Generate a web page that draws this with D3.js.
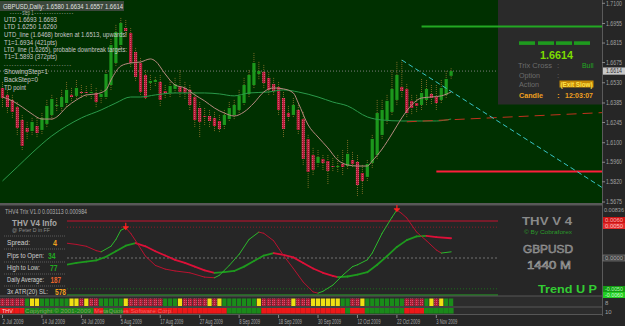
<!DOCTYPE html>
<html><head><meta charset="utf-8">
<script src="https://cdn.jsdelivr.net/npm/d3@7"></script>
<style>body{margin:0;background:#262626;} svg{display:block;font-family:"Liberation Sans",Arial,sans-serif;}</style>
</head><body><svg id="c" width="625" height="326"></svg>
<script>
// ---------- DATA ----------
const opens  = [1.6493,1.6443,1.6407,1.6356,1.6263,1.6206,1.6184,1.6220,1.6192,1.6235,1.6299,1.6364,1.6356,1.6385,1.6443,1.6436,1.6464,1.6464,1.6460,1.6457,1.6428,1.6428,1.6514,1.6672,1.6801,1.6923,1.6887,1.6751,1.6672,1.6586,1.6529,1.6536,1.6536,1.6471,1.6457,1.6486,1.6500,1.6493,1.6479,1.6428,1.6349,1.6292,1.6292,1.6278,1.6256,1.6227,1.6270,1.6299,1.6335,1.6385,1.6450,1.6514,1.6593,1.6608,1.6565,1.6521,1.6500,1.6421,1.6313,1.6299,1.6335,1.6270,1.6127,1.6012,1.5955,1.5984,1.5969,1.5933,1.5930,1.5948,1.5933,1.5976,1.5962,1.5883,1.5855,1.5955,1.6012,1.6156,1.6263,1.6321,1.6407,1.6500,1.6486,1.6400,1.6385,1.6371,1.6407,1.6450,1.6428,1.6407,1.6443,1.6580];
const highs  = [1.6536,1.6479,1.6443,1.6392,1.6299,1.6249,1.6278,1.6278,1.6313,1.6407,1.6443,1.6421,1.6479,1.6536,1.6493,1.6550,1.6514,1.6507,1.6521,1.6493,1.6479,1.6622,1.6844,1.6945,1.6995,1.6980,1.6923,1.6780,1.6708,1.6622,1.6586,1.6572,1.6586,1.6514,1.6550,1.6565,1.6622,1.6536,1.6514,1.6464,1.6392,1.6349,1.6335,1.6321,1.6299,1.6335,1.6392,1.6407,1.6479,1.6565,1.6622,1.6744,1.6680,1.6658,1.6608,1.6565,1.6536,1.6464,1.6364,1.6421,1.6371,1.6321,1.6156,1.6063,1.6048,1.6012,1.6012,1.5990,1.6012,1.6048,1.6120,1.6034,1.6012,1.5941,1.5976,1.6156,1.6407,1.6407,1.6443,1.6622,1.6680,1.6694,1.6521,1.6443,1.6443,1.6557,1.6550,1.6514,1.6514,1.6550,1.6615,1.6634];
const lows   = [1.6349,1.6313,1.6278,1.6156,1.6048,1.6120,1.6156,1.6134,1.6156,1.6206,1.6263,1.6321,1.6321,1.6349,1.6392,1.6407,1.6421,1.6421,1.6407,1.6349,1.6378,1.6407,1.6479,1.6651,1.6765,1.6852,1.6637,1.6536,1.6436,1.6407,1.6479,1.6507,1.6364,1.6421,1.6421,1.6457,1.6421,1.6407,1.6335,1.6206,1.6141,1.6227,1.6213,1.6177,1.6170,1.6192,1.6249,1.6263,1.6313,1.6364,1.6428,1.6493,1.6550,1.6493,1.6443,1.6436,1.6299,1.6134,1.6249,1.6278,1.6156,1.5941,1.5776,1.5869,1.5919,1.5905,1.5797,1.5891,1.5891,1.5869,1.5905,1.5919,1.5712,1.5726,1.5819,1.5919,1.5976,1.6120,1.6227,1.6299,1.6371,1.6421,1.6278,1.6299,1.6321,1.6335,1.6371,1.6371,1.6335,1.6378,1.6421,1.6557];
const closes = [1.6421,1.6356,1.6321,1.6206,1.6077,1.6177,1.6249,1.6170,1.6278,1.6364,1.6414,1.6371,1.6428,1.6479,1.6428,1.6493,1.6457,1.6460,1.6464,1.6392,1.6450,1.6593,1.6801,1.6894,1.6959,1.6901,1.6672,1.6572,1.6464,1.6421,1.6543,1.6550,1.6407,1.6457,1.6507,1.6521,1.6464,1.6457,1.6371,1.6263,1.6249,1.6288,1.6256,1.6220,1.6199,1.6299,1.6349,1.6371,1.6436,1.6514,1.6586,1.6672,1.6615,1.6529,1.6479,1.6471,1.6335,1.6199,1.6285,1.6371,1.6192,1.5984,1.5891,1.5905,1.5998,1.5955,1.5898,1.5930,1.5933,1.5926,1.6020,1.5948,1.5797,1.5826,1.5948,1.6127,1.6313,1.6335,1.6400,1.6486,1.6586,1.6471,1.6313,1.6349,1.6364,1.6457,1.6486,1.6421,1.6385,1.6493,1.6557,1.6614];

const fastMaIdx = [0,2,4,6,8,10,11,13,15,17,19,21,22,24,26,28,30,31,33,35,37,39,41,43,45,47,49,51,53,55,57,59,60,62,64,66,68,70,72,74,75,77,79,81,83,85,87,89,91];
const fastMaVal = [1.6428,1.6400,1.6356,1.6306,1.6270,1.6270,1.6285,1.6356,1.6407,1.6443,1.6450,1.6479,1.6550,1.6650,1.6672,1.6679,1.6701,1.6686,1.6593,1.6514,1.6493,1.6443,1.6400,1.6349,1.6313,1.6292,1.6321,1.6385,1.6464,1.6493,1.6486,1.6457,1.6385,1.6227,1.6141,1.6063,1.5976,1.5941,1.5933,1.5933,1.5969,1.6055,1.6163,1.6278,1.6371,1.6421,1.6428,1.6436,1.6464];
const slowMaIdx = [0,3,6,10,13,16,20,23,26,28,31,35,38,41,44,47,50,54,57,60,64,67,70,74,77,81,85,88,91];
const slowMaVal = [1.5826,1.5926,1.6027,1.6149,1.6220,1.6278,1.6335,1.6385,1.6428,1.6428,1.6443,1.6457,1.6457,1.6457,1.6450,1.6436,1.6457,1.6464,1.6479,1.6464,1.6428,1.6392,1.6364,1.6285,1.6263,1.6256,1.6256,1.6256,1.6270];

const fastTrixIdx = [13,15,17,19,20,22,23,24,25,26,27,29,31,33,35,38,41,43,44,46,48,50,52,53,55,57,59,61,63,64,65,67,69,71,72,74,75,77,79,80,81,82,84,86,88,89,91];
const fastTrixVal = [0.0024,0.0022,0.0019,0.0012,0.0010,0.0019,0.0030,0.0045,0.0049,0.0040,0.0028,0.0003,-0.0012,-0.0018,-0.0021,-0.0024,-0.0031,-0.0032,-0.0028,-0.0012,0.0006,0.0030,0.0042,0.0040,0.0028,0.0004,-0.0017,-0.0039,-0.0055,-0.0057,-0.0054,-0.0044,-0.0028,-0.0014,-0.0011,-0.0003,0.0008,0.0040,0.0066,0.0078,0.0072,0.0065,0.0042,0.0028,0.0013,0.0008,0.0010];
const slowTrixIdx = [13,15,17,19,21,23,25,27,29,31,33,35,37,39,41,43,45,47,49,51,53,55,57,59,61,63,65,67,68,70,72,74,76,78,80,82,84,86,88,91];
const slowTrixVal = [-0.0011,-0.0008,-0.0006,-0.0004,0.0002,0.0011,0.0020,0.0024,0.0019,0.0011,0.0004,-0.0003,-0.0008,-0.0014,-0.0020,-0.0024,-0.0023,-0.0021,-0.0014,-0.0005,0.0004,0.0008,0.0005,0.0001,-0.0008,-0.0017,-0.0024,-0.0029,-0.0031,-0.0030,-0.0027,-0.0023,-0.0011,0.0003,0.0018,0.0029,0.0035,0.0036,0.0034,0.0032];
const trixMarkIdx = [25, 80];
const trixLevels = [0.006, 0.005, 0, -0.005, -0.006];

const barRow1 = "RRRRRGYYGGGGGGYYRYRRGGGGGYRRRRRRRGGGYRRRRRYRYGGGGGGGYRRRRRRYRRRYYYYYYGGRRYGGGGGGGGRRRRGYRYGG".split("");
const barRow2 = "RRRRRGGGGGGGGGGGGGGRRGGGGRRRRRRRRRRRRRRRRRRRRRGGGGGGGRRRRRRRRRRRRRRRRRGRRRGGGGGGGGRRRRGGGGGG".split("");

const priceTicks = [1.7100,1.6955,1.6815,1.6675,1.6530,1.6385,1.6245,1.6100,1.5960,1.5820,1.5675];
const dateTickIdx = [0,8,16,24,32,40,48,56,64,72,80,88];
const dateTickLabels = ["2 Jul 2009","14 Jul 2009","24 Jul 2009","5 Aug 2009","17 Aug 2009","27 Aug 2009","8 Sep 2009","18 Sep 2009","30 Sep 2009","12 Oct 2009","22 Oct 2009","3 Nov 2009"];

const utdPts = [[81,1.6693],[91,1.6468]];
const ltdPts = [[82,1.6250],[91,1.6265]];
const upTarget = {i:85, p:1.6934};
const dnTarget = {i:88, p:1.5893};
const lastPrice = 1.6614;

const infoLines = ["UTD  1.6693  1.6693","LTD  1.6250  1.6260","UTD_line (1.6468) broken at 1.6513, upwards!","T1=1.6934 (421pts)","LTD_line (1.6265), probable downbreak targets:","T1=1.5893 (372pts)"];
const thvRows = [["Spread:","4","#f0a020"],["Pips to Open:","34","#22aa22"],["High to Low:","77","#22aa22"],["Daily Average:","187","#e8642c"],["3x ATR(20) SL:","578","#f0a020"]];

// ---------- SCALES ----------
const svg = d3.select("#c");
const x = d3.scaleLinear().domain([0,91]).range([2.5, 2.5+91*4.93]);
const y = d3.scaleLinear().domain([1.5675,1.7100]).range([202,3.3]);
const yt = d3.scaleLinear().domain([-0.006,0.006]).range([295,221]);

const defs = svg.append("defs");
const pat = defs.append("pattern").attr("id","rh").attr("width",2).attr("height",2).attr("patternUnits","userSpaceOnUse");
pat.append("rect").attr("width",2).attr("height",2).attr("fill","#b01c36");
pat.append("rect").attr("width",1).attr("height",1).attr("fill","#d85470");
defs.append("clipPath").attr("id","mainclip").append("rect").attr("x",0).attr("y",0).attr("width",602).attr("height",203);
defs.append("clipPath").attr("id","subclip").append("rect").attr("x",67).attr("y",206).attr("width",431).attr("height",90);

function txt(g,s,px,py,o){o=o||{};const t=g.append("text").attr("x",px).attr("y",py).text(s)
  .attr("font-size",o.size||7).attr("fill",o.fill||"#c8c8c8");
  if(o.len) t.attr("textLength",o.len).attr("lengthAdjust","spacingAndGlyphs");
  if(o.weight) t.attr("font-weight",o.weight);
  if(o.anchor) t.attr("text-anchor",o.anchor);
  if(o.stroke) t.attr("stroke",o.stroke).attr("stroke-width",o.sw||0.5);
  return t;}

// ---------- BACKGROUNDS ----------
svg.append("rect").attr("width",625).attr("height",326).attr("fill","#262626");
svg.append("rect").attr("x",0).attr("y",0).attr("width",602).attr("height",203).attr("fill","#003000");
svg.append("rect").attr("x",0).attr("y",203).attr("width",602).attr("height",2.5).attr("fill","#585858");
svg.append("rect").attr("x",0).attr("y",296).attr("width",602).attr("height",19).attr("fill","#2c2c2c");
svg.append("line").attr("x1",602.5).attr("x2",602.5).attr("y1",0).attr("y2",316).attr("stroke","#5a5a5a");

// ---------- MAIN CHART ----------
const main = svg.append("g").attr("clip-path","url(#mainclip)");
main.append("rect").attr("x",0).attr("y",1).attr("width",124).attr("height",10).attr("fill","#4a4f4a").attr("opacity",0.8);

main.append("line").attr("x1",0).attr("x2",602).attr("y1",y(lastPrice)).attr("y2",y(lastPrice))
  .attr("stroke","#7a7a7a").attr("stroke-dasharray","1,2");

const idx = d3.range(opens.length);
main.selectAll(".wick").data(idx).join("line")
  .attr("x1",i=>x(i)).attr("x2",i=>x(i)).attr("y1",i=>y(highs[i])).attr("y2",i=>y(lows[i]))
  .attr("stroke","#7a6a26").attr("stroke-dasharray","1,1");
main.selectAll(".body").data(idx).join("rect")
  .attr("x",i=>x(i)-1.6).attr("width",3.2)
  .attr("y",i=>Math.min(y(opens[i]),y(closes[i])))
  .attr("height",i=>Math.max(1,Math.abs(y(opens[i])-y(closes[i]))))
  .attr("fill",i=>closes[i]>=opens[i]?"#1c981c":"url(#rh)");

const maLine = d3.line().x(d=>x(d[0])).y(d=>y(d[1])).curve(d3.curveMonotoneX);
main.append("path").attr("d",maLine(slowMaIdx.map((v,k)=>[v,slowMaVal[k]])))
  .attr("fill","none").attr("stroke","#2a9a4a").attr("stroke-width",1);
main.append("path").attr("d",maLine(fastMaIdx.map((v,k)=>[v,fastMaVal[k]])))
  .attr("fill","none").attr("stroke","#b88a80").attr("stroke-width",1);

main.append("rect").attr("x",498).attr("y",0).attr("width",104).attr("height",104.5).attr("fill","#2a2a2a");

main.append("line").attr("x1",x(upTarget.i)).attr("x2",602).attr("y1",y(upTarget.p)).attr("y2",y(upTarget.p))
  .attr("stroke","#22a822").attr("stroke-width",2);
main.append("line").attr("x1",x(dnTarget.i)).attr("x2",602).attr("y1",y(dnTarget.p)).attr("y2",y(dnTarget.p))
  .attr("stroke","#ff1e3c").attr("stroke-width",2);

function extLine(pts,color,dash){
  const [a,b]=pts; const slope=(b[1]-a[1])/(b[0]-a[0]); const iEnd=x.invert(602);
  main.append("line").attr("x1",x(a[0])).attr("y1",y(a[1])).attr("x2",x(iEnd)).attr("y2",y(a[1]+slope*(iEnd-a[0])))
    .attr("stroke",color).attr("stroke-width",1).attr("stroke-dasharray",dash);
}
extLine(ltdPts,"#c0321e","10,6");
extLine(utdPts,"#38c4c4","5,3");

txt(main,"GBPUSD,Daily:  1.6580  1.6634  1.6557  1.6614",3,8.6,{len:120,fill:"#e0e0e0"});
txt(main,"- - - - -   step 1  - - - - - - - - - - - - - - - -",10,15,{len:63,fill:"#b8b8b8"});
const ily=[22.4,29.1,36.7,45,52.4,59.4], ilen=[53,53,123,53,123,53];
infoLines.forEach((s,k)=>txt(main,s,4,ily[k],{len:ilen[k]}));
txt(main,"- - - - - - - - - - - - - - - - - - - - - - - - - -",4,67.4,{len:67,fill:"#a0a0a0"});
txt(main,"ShowingStep=1",4,73.6,{len:44});
txt(main,"BackStep=0",4,81.6,{len:34});
txt(main,"TD point",4,89.6,{len:22});

[519,538,556,574].forEach(px=>main.append("rect").attr("x",px).attr("y",41.3).attr("width",16).attr("height",3.6).attr("fill","#1e9a1e"));
txt(main,"1.6614",556.5,59.2,{size:11.5,weight:"bold",fill:"#7cdc00",anchor:"middle",len:33});
txt(main,"Trix Cross",518,67.6,{size:8,fill:"#6c6c6c",len:34});
txt(main,":",557,67.6,{size:8,fill:"#6c6c6c"});
txt(main,"Bull",582,67.6,{size:8,fill:"#22aa22",len:11.5});
txt(main,"Option",519,77.6,{size:8,fill:"#6c6c6c",len:21});
txt(main,":",557,77.6,{size:8,fill:"#6c6c6c"});
txt(main,"Action",519,87.2,{size:8,fill:"#6c6c6c",len:20});
main.append("rect").attr("x",559.5).attr("y",80.5).attr("width",34).attr("height",7).attr("fill","#c48a06");
txt(main,"(Exit Slow)",560.5,86.8,{size:7.5,weight:"bold",fill:"#ffe24a",len:32});
txt(main,"Candle",519,97.6,{size:8,weight:"bold",fill:"#f0a020",len:24});
txt(main,":",557,97.6,{size:8,weight:"bold",fill:"#f0a020"});
txt(main,"12:03:07",565,97.6,{size:8,weight:"bold",fill:"#f0a020",len:28});

const ax = svg.append("g");
priceTicks.forEach(p=>{
  ax.append("line").attr("x1",602).attr("x2",605).attr("y1",y(p)).attr("y2",y(p)).attr("stroke","#888");
  txt(ax,p.toFixed(4),606,y(p)+2.2,{size:6.5,fill:"#a0a0a0",len:16});
});
ax.append("rect").attr("x",603).attr("y",y(lastPrice)-3.6).attr("width",22).attr("height",7.2).attr("fill","#c8c8c8");
txt(ax,lastPrice.toFixed(4),606,y(lastPrice)+2.3,{size:6.5,fill:"#333",len:16});

// ---------- TRIX SUBWINDOW ----------
const sub = svg.append("g");
const subL = sub.append("g").attr("clip-path","url(#subclip)");
const lvStyle = {"0.006":["#c8102e","none"],"0.005":["#8a1a28","1,2"],"0":["#707070","2,2"],"-0.005":["#1e6e1e","1,2"],"-0.006":["#22aa22","none"]};
trixLevels.forEach(v=>{const s=lvStyle[String(v)];
  subL.append("line").attr("x1",67).attr("x2",498).attr("y1",yt(v)).attr("y2",yt(v)).attr("stroke",s[0]).attr("stroke-dasharray",s[1]);});

function colorSegs(ix,vals,up,dn,w){
  for(let k=1;k<ix.length;k++){
    const c = vals[k]>=vals[k-1]?up:dn;
    subL.append("line").attr("x1",x(ix[k-1])).attr("y1",yt(vals[k-1])).attr("x2",x(ix[k])).attr("y2",yt(vals[k]))
      .attr("stroke",c).attr("stroke-width",w).attr("stroke-linecap","round");
  }
}
colorSegs(slowTrixIdx,slowTrixVal,"#1e9a1e","#dc1038",1.8);
colorSegs(fastTrixIdx,fastTrixVal,"#2cb82c","#b81230",1);
trixMarkIdx.forEach(mi=>{const k=fastTrixIdx.indexOf(mi); const px=x(mi), py=yt(fastTrixVal[k])-1;
  sub.append("path").attr("d",`M${px-3},${py}H${px+3}M${px},${py-4}V${py+2}M${px-2},${py}L${px},${py+2.5}L${px+2},${py}`)
    .attr("stroke","#ff2020").attr("stroke-width",1.2).attr("fill","none");});

txt(sub,"THV4 Trix V1.0 0.003113 0.000984",5,214,{size:7,fill:"#b0b0b0",len:82});
txt(sub,"THV  V4  Info",12,226.4,{size:9,weight:"bold",fill:"#a8a8a8",len:45});
txt(sub,"@ Peter D in FF",12,232.2,{size:5.5,fill:"#8c8c8c",len:38});
[236,249,262,274,286].forEach(ly=>sub.append("line").attr("x1",4).attr("x2",66).attr("y1",ly).attr("y2",ly).attr("stroke","#5a5a5a").attr("stroke-dasharray","1,1"));
const rowY=[245.4,258.2,270.4,282.4,294.2], rowLen=[23,37,33,37,41], valX=[53,48,50,50.5,55], valLen=[4,7.5,7.5,10.5,11];
thvRows.forEach((r,k)=>{txt(sub,r[0],7,rowY[k],{size:7,fill:"#cfcfcf",len:rowLen[k]});
  txt(sub,r[1],valX[k],rowY[k]+0.6,{size:8.5,weight:"bold",fill:r[2],len:valLen[k]});});
txt(sub,"THV V 4",547,225,{size:11,weight:"bold",fill:"#8a8a8a",anchor:"middle",len:50});
txt(sub,"© By Cobraforex",548,234,{size:5.5,fill:"#2a9a2a",anchor:"middle",len:48});
txt(sub,"GBPUSD",548,252.5,{size:10,fill:"#4a4a4a",stroke:"#a4a4a4",sw:0.5,anchor:"middle",len:50});
txt(sub,"1440 M",549,268.5,{size:10,fill:"#4a4a4a",stroke:"#a4a4a4",sw:0.5,anchor:"middle",len:44});
txt(sub,"Trend U P",567.5,293,{size:11.5,weight:"bold",fill:"#33cc33",anchor:"middle",len:59});
txt(sub,"0.00836",604,212.2,{size:6,fill:"#a0a0a0",len:20});
const boxes=[[217,"#cc1414","0.0060","#ffb0b0"],[223,"#e02a2a","0.0050","#ffc0c0"],[255,"#3c3c3c","0.0000","#b0b0b0"],[286,"#129a12","-0.0050","#b0ffb0"],[292,"#22cc22","-0.0060","#d0ffd0"]];
boxes.forEach(b=>{sub.append("rect").attr("x",603).attr("y",b[0]).attr("width",22).attr("height",6).attr("fill",b[1]).attr("stroke",b[0]===255?"#8a8a8a":"none").attr("stroke-width",0.6);
  txt(sub,b[2],605,b[0]+5,{size:5.5,fill:b[3],len:18});});

// ---------- COLOR STRIPS ----------
const strip = svg.append("g");
[296,307,314.5].forEach(ly=>strip.append("line").attr("x1",0).attr("x2",602).attr("y1",ly).attr("y2",ly).attr("stroke","#565656"));
const c1={R:"url(#rh)",G:"#1a8c1a",Y:"#f0e014"}, c2={R:"#ee1818",G:"#1a8a1a"};
strip.selectAll(".r1").data(barRow1).join("rect").attr("x",(d,i)=>x(i)-2.1).attr("width",4.2)
  .attr("y",298.5).attr("height",7.5).attr("fill",d=>c1[d]);
strip.selectAll(".r2").data(barRow2).join("rect").attr("x",(d,i)=>x(i)-2.47).attr("width",4.95)
  .attr("y",308).attr("height",5.6).attr("fill",d=>c2[d]);
txt(strip,"THV",2,313.2,{size:5.5,fill:"#f0d0d0",len:11});
txt(strip,"Copyright © 2001-2009, MetaQuotes Software Corp.",25,313.2,{size:5.5,fill:"rgba(255,190,190,0.45)",len:148});
txt(strip,"8",605,304.5,{size:6,fill:"#a0a0a0"});
txt(strip,"10",605,314,{size:6,fill:"#a0a0a0"});

// ---------- DATE AXIS ----------
const dax = svg.append("g");
dateTickIdx.forEach((di,k)=>{
  dax.append("line").attr("x1",x(di)).attr("x2",x(di)).attr("y1",315).attr("y2",318).attr("stroke","#888");
  txt(dax,dateTickLabels[k],x(di),324,{size:6.5,fill:"#a8a8a8",len:dateTickLabels[k].length*2.1});
});
</script></body></html>
